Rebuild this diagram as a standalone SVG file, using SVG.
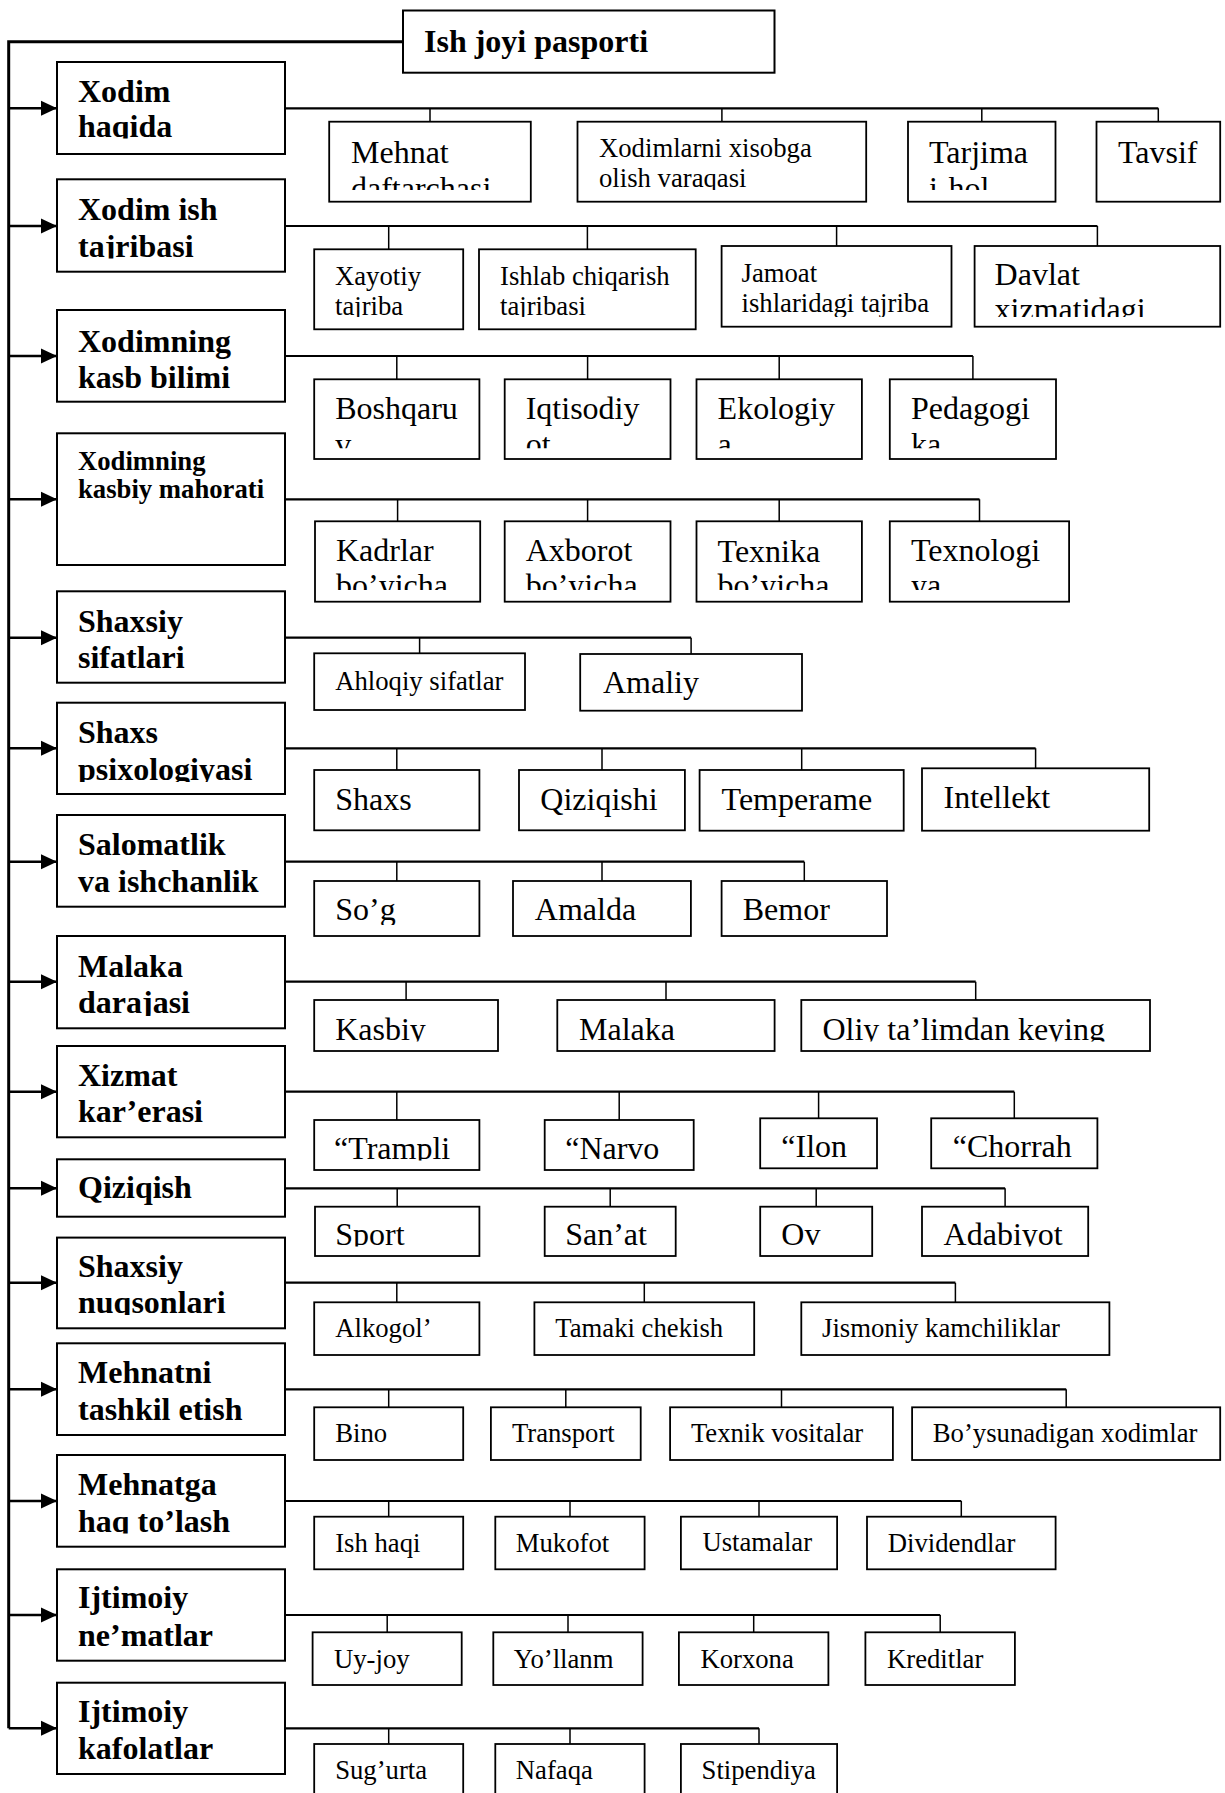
<svg xmlns="http://www.w3.org/2000/svg" width="1225" height="1793" viewBox="0 0 1225 1793">
<style>
.box{fill:#fff;stroke:#000;stroke-width:1.8}
.cat{stroke-width:2}
text{font-family:'Liberation Serif','Times New Roman',serif;fill:#000}
.b32{font-size:32px;font-weight:bold}
.b27{font-size:26.7px;font-weight:bold}
.r32{font-size:32px}
.r27{font-size:26.7px}
.main{fill:none;stroke:#000;stroke-width:3}
.arr{fill:none;stroke:#000;stroke-width:2.5;marker-end:url(#ah)}
.hz{fill:none;stroke:#000;stroke-width:2.2}
.dr{fill:none;stroke:#000;stroke-width:1.5}
</style>
<defs>
<marker id="ah" markerUnits="userSpaceOnUse" markerWidth="16" markerHeight="16" refX="16" refY="8" orient="auto"><path d="M0,0.5 L16,8 L0,15.5z" fill="#000"/></marker>
<clipPath id="k1"><rect x="57" y="60" width="228" height="78.5"/></clipPath>
<clipPath id="k2"><rect x="57" y="178" width="228" height="80.5"/></clipPath>
<clipPath id="k6"><rect x="57" y="700" width="228" height="82"/></clipPath>
<clipPath id="k8"><rect x="57" y="934" width="228" height="82"/></clipPath>
<clipPath id="k11"><rect x="57" y="1236" width="228" height="79"/></clipPath>
<clipPath id="k13"><rect x="57" y="1453" width="228" height="80.5"/></clipPath>
<clipPath id="c1"><rect x="300" y="110" width="925" height="80"/></clipPath>
<clipPath id="c2"><rect x="300" y="240" width="925" height="77"/></clipPath>
<clipPath id="c3"><rect x="300" y="370" width="925" height="78.3"/></clipPath>
<clipPath id="c4"><rect x="300" y="510" width="925" height="80"/></clipPath>
<clipPath id="c7"><rect x="300" y="875" width="925" height="50"/></clipPath>
<clipPath id="c8"><rect x="300" y="995" width="925" height="46.5"/></clipPath>
<clipPath id="c9"><rect x="300" y="1110" width="925" height="50.5"/></clipPath>
<clipPath id="c10"><rect x="300" y="1200" width="925" height="46.5"/></clipPath>
</defs>

<g id="connectors">
<path class="main" d="M403,41.7 H8.7 V1728.3"/>
<line class="arr" x1="8.7" y1="108.3" x2="57" y2="108.3"/>
<line class="arr" x1="8.7" y1="226" x2="57" y2="226"/>
<line class="arr" x1="8.7" y1="356" x2="57" y2="356"/>
<line class="arr" x1="8.7" y1="499.3" x2="57" y2="499.3"/>
<line class="arr" x1="8.7" y1="637.7" x2="57" y2="637.7"/>
<line class="arr" x1="8.7" y1="748.3" x2="57" y2="748.3"/>
<line class="arr" x1="8.7" y1="861.7" x2="57" y2="861.7"/>
<line class="arr" x1="8.7" y1="981.7" x2="57" y2="981.7"/>
<line class="arr" x1="8.7" y1="1091.7" x2="57" y2="1091.7"/>
<line class="arr" x1="8.7" y1="1188.3" x2="57" y2="1188.3"/>
<line class="arr" x1="8.7" y1="1282.7" x2="57" y2="1282.7"/>
<line class="arr" x1="8.7" y1="1389.3" x2="57" y2="1389.3"/>
<line class="arr" x1="8.7" y1="1501" x2="57" y2="1501"/>
<line class="arr" x1="8.7" y1="1615" x2="57" y2="1615"/>
<line class="arr" x1="8.7" y1="1728.3" x2="57" y2="1728.3"/>

<path class="hz" d="M285,108.3 H1158.3 M285,226 H1097.4 M285,356 H972.9 M285,499.3 H979.5 M285,637.7 H691.1 M285,748.3 H1035.6 M285,861.7 H804.3 M285,981.7 H975.7 M285,1091.7 H1014.3 M285,1188.3 H1005.1 M285,1282.7 H955.4 M285,1389.3 H1066.2 M285,1501 H961.3 M285,1615 H940.2 M285,1728.3 H759"/>
<path class="dr" d="M430,108.3 V121.7 M721.9,108.3 V121.7 M981.8,108.3 V121.7 M1158.3,108.3 V121.7
M388.7,226 V249.3 M587.4,226 V249.3 M836.6,226 V246 M1097.4,226 V246
M396.8,356 V379.3 M587.6,356 V379.3 M779.2,356 V379.3 M972.9,356 V379.3
M397.6,499.3 V521.3 M587.6,499.3 V521.3 M779.2,499.3 V521.3 M979.5,499.3 V521.3
M419.6,637.7 V653.3 M691.1,637.7 V654
M396.8,748.3 V770 M602,748.3 V770 M801.7,748.3 V770 M1035.6,748.3 V768.3
M396.8,861.7 V881 M602,861.7 V881 M804.3,861.7 V881
M406.1,981.7 V1000 M666,981.7 V1000 M975.7,981.7 V1000
M396.8,1091.7 V1120 M619.2,1091.7 V1120 M818.6,1091.7 V1118.3 M1014.3,1091.7 V1118.3
M397.2,1188.3 V1206.7 M610.2,1188.3 V1206.7 M816.2,1188.3 V1206.7 M1005.1,1188.3 V1206.7
M396.8,1282.7 V1302.3 M644.3,1282.7 V1302.3 M955.4,1282.7 V1302.3
M388.7,1389.3 V1407.3 M565.8,1389.3 V1407.3 M781.5,1389.3 V1407.3 M1066.2,1389.3 V1407.3
M388.7,1501 V1516.7 M570,1501 V1516.7 M759,1501 V1516.7 M961.3,1501 V1516.7
M387.2,1615 V1632.3 M568,1615 V1632.3 M753.7,1615 V1632.3 M940.2,1615 V1632.3
M388.7,1728.3 V1744 M570,1728.3 V1744 M759,1728.3 V1744"/>
</g>

<g id="title"><rect class="box cat" x="403" y="10.5" width="371.5" height="62.2"/><text class="b32" x="424" y="52">Ish joyi pasporti</text></g>

<g id="cat1"><rect class="box cat" x="57" y="62" width="228" height="92"/><g clip-path="url(#k1)"><text class="b32" x="78" y="101.7">Xodim</text><text class="b32" x="78" y="136.7">haqida</text></g></g>
<g id="cat2"><rect class="box cat" x="57" y="179.3" width="228" height="92.4"/><g clip-path="url(#k2)"><text class="b32" x="78" y="220">Xodim ish</text><text class="b32" x="78" y="256.7">tajribasi</text></g></g>
<g id="cat3"><rect class="box cat" x="57" y="310" width="228" height="91.7"/><text class="b32" x="78" y="351.7">Xodimning</text><text class="b32" x="78" y="387.7">kasb bilimi</text></g>
<g id="cat4"><rect class="box cat" x="57" y="433.3" width="228" height="131.7"/><text class="b27" x="78" y="470">Xodimning</text><text class="b27" x="78" y="498">kasbiy mahorati</text></g>
<g id="cat5"><rect class="box cat" x="57" y="591.3" width="228" height="91.4"/><text class="b32" x="78" y="631.7">Shaxsiy</text><text class="b32" x="78" y="668.3">sifatlari</text></g>
<g id="cat6"><rect class="box cat" x="57" y="702.7" width="228" height="91.3"/><g clip-path="url(#k6)"><text class="b32" x="78" y="742.7">Shaxs</text><text class="b32" x="78" y="780">psixologiyasi</text></g></g>
<g id="cat7"><rect class="box cat" x="57" y="815" width="228" height="91.7"/><text class="b32" x="78" y="855">Salomatlik</text><text class="b32" x="78" y="891.7">va ishchanlik</text></g>
<g id="cat8"><rect class="box cat" x="57" y="936" width="228" height="92.3"/><g clip-path="url(#k8)"><text class="b32" x="78" y="976.7">Malaka</text><text class="b32" x="78" y="1013.3">darajasi</text></g></g>
<g id="cat9"><rect class="box cat" x="57" y="1046" width="228" height="91.3"/><text class="b32" x="78" y="1085.7">Xizmat</text><text class="b32" x="78" y="1122.3">kar’erasi</text></g>
<g id="cat10"><rect class="box cat" x="57" y="1159.3" width="228" height="57.4"/><text class="b32" x="78" y="1198.3">Qiziqish</text></g>
<g id="cat11"><rect class="box cat" x="57" y="1237.6" width="228" height="90.7"/><g clip-path="url(#k11)"><text class="b32" x="78" y="1276.7">Shaxsiy</text><text class="b32" x="78" y="1313.3">nuqsonlari</text></g></g>
<g id="cat12"><rect class="box cat" x="57" y="1343.3" width="228" height="91.7"/><text class="b32" x="78" y="1383.3">Mehnatni</text><text class="b32" x="78" y="1420">tashkil etish</text></g>
<g id="cat13"><rect class="box cat" x="57" y="1455" width="228" height="91.7"/><g clip-path="url(#k13)"><text class="b32" x="78" y="1495">Mehnatga</text><text class="b32" x="78" y="1531.7">haq to’lash</text></g></g>
<g id="cat14"><rect class="box cat" x="57" y="1569.3" width="228" height="91.4"/><text class="b32" x="78" y="1608.3">Ijtimoiy</text><text class="b32" x="78" y="1646">ne’matlar</text></g>
<g id="cat15"><rect class="box cat" x="57" y="1682.7" width="228" height="91.3"/><text class="b32" x="78" y="1721.7">Ijtimoiy</text><text class="b32" x="78" y="1759.3">kafolatlar</text></g>

<g id="n1a"><rect class="box" x="329.2" y="121.7" width="201.6" height="80"/><g clip-path="url(#c1)"><text class="r32" x="351" y="163.3">Mehnat</text><text class="r32" x="351" y="198.6">daftarchasi</text></g></g>
<g id="n1b"><rect class="box" x="577.5" y="121.7" width="288.7" height="80"/><g clip-path="url(#c1)"><text class="r27" x="599" y="156.7">Xodimlarni xisobga</text><text class="r27" x="599" y="186.7">olish varaqasi</text></g></g>
<g id="n1c"><rect class="box" x="908" y="121.7" width="147.5" height="80"/><g clip-path="url(#c1)"><text class="r32" x="929" y="163.3">Tarjima</text><text class="r32" x="929" y="198.6">i-hol</text></g></g>
<g id="n1d"><rect class="box" x="1096.5" y="121.7" width="123.7" height="80"/><text class="r32" x="1118" y="163.3">Tavsif</text></g>

<g id="n2a"><rect class="box" x="314.2" y="249.3" width="149" height="80"/><g clip-path="url(#c2)"><text class="r27" x="335" y="285">Xayotiy</text><text class="r27" x="335" y="315">tajriba</text></g></g>
<g id="n2b"><rect class="box" x="479" y="249.3" width="216.7" height="80"/><g clip-path="url(#c2)"><text class="r27" x="500" y="285">Ishlab chiqarish</text><text class="r27" x="500" y="315">tajribasi</text></g></g>
<g id="n2c"><rect class="box" x="721.6" y="246" width="229.9" height="80.7"/><g clip-path="url(#c2)"><text class="r27" x="741.5" y="281.7">Jamoat</text><text class="r27" x="741.5" y="311.7">ishlaridagi tajriba</text></g></g>
<g id="n2d"><rect class="box" x="974.6" y="246" width="245.6" height="80.7"/><g clip-path="url(#c2)"><text class="r32" x="994.6" y="285">Davlat</text><text class="r32" x="994.6" y="320.3">xizmatidagi</text></g></g>

<g id="n3a"><rect class="box" x="314.2" y="379.3" width="165.2" height="79.7"/><g clip-path="url(#c3)"><text class="r32" x="335.2" y="419.3">Boshqaru</text><text class="r32" x="335.2" y="454.6">v</text></g></g>
<g id="n3b"><rect class="box" x="504.7" y="379.3" width="165.8" height="79.7"/><g clip-path="url(#c3)"><text class="r32" x="525.7" y="419.3">Iqtisodiy</text><text class="r32" x="525.7" y="454.6">ot</text></g></g>
<g id="n3c"><rect class="box" x="696.5" y="379.3" width="165.4" height="79.7"/><g clip-path="url(#c3)"><text class="r32" x="717.6" y="419.3">Ekologiy</text><text class="r32" x="717.6" y="454.6">a</text></g></g>
<g id="n3d"><rect class="box" x="889.8" y="379.3" width="166.2" height="79.7"/><g clip-path="url(#c3)"><text class="r32" x="910.9" y="419.3">Pedagogi</text><text class="r32" x="910.9" y="454.6">ka</text></g></g>

<g id="n4a"><rect class="box" x="315" y="521.3" width="165.2" height="80.4"/><g clip-path="url(#c4)"><text class="r32" x="336" y="560.7">Kadrlar</text><text class="r32" x="336" y="596">bo’yicha</text></g></g>
<g id="n4b"><rect class="box" x="504.7" y="521.3" width="165.8" height="80.4"/><g clip-path="url(#c4)"><text class="r32" x="525.7" y="560.7">Axborot</text><text class="r32" x="525.7" y="596">bo’yicha</text></g></g>
<g id="n4c"><rect class="box" x="696.5" y="521.3" width="165.4" height="80.4"/><g clip-path="url(#c4)"><text class="r32" x="717.6" y="561.7">Texnika</text><text class="r32" x="717.6" y="596">bo’yicha</text></g></g>
<g id="n4d"><rect class="box" x="889.8" y="521.3" width="179.3" height="80.4"/><g clip-path="url(#c4)"><text class="r32" x="910.9" y="560.7">Texnologi</text><text class="r32" x="910.9" y="596">ya</text></g></g>

<g id="n5a"><rect class="box" x="314.2" y="653.3" width="210.8" height="56.7"/><text class="r27" x="335.2" y="690">Ahloqiy sifatlar</text></g>
<g id="n5b"><rect class="box" x="580.2" y="654" width="221.8" height="56.7"/><text class="r32" x="603" y="693.3">Amaliy</text></g>

<g id="n6a"><rect class="box" x="314.2" y="770" width="165.2" height="60.3"/><text class="r32" x="335.2" y="810">Shaxs</text></g>
<g id="n6b"><rect class="box" x="519" y="770" width="165.9" height="60.3"/><text class="r32" x="540.3" y="810">Qiziqishi</text></g>
<g id="n6c"><rect class="box" x="699.6" y="770" width="204.1" height="60.7"/><text class="r32" x="721.6" y="810">Temperame</text></g>
<g id="n6d"><rect class="box" x="922" y="768.3" width="227.2" height="62.4"/><text class="r32" x="943.6" y="808.3">Intellekt</text></g>

<g id="n7a"><rect class="box" x="314.2" y="881" width="165.2" height="55"/><g clip-path="url(#c7)"><text class="r32" x="335.2" y="920">So’g</text></g></g>
<g id="n7b"><rect class="box" x="513" y="881" width="177.9" height="55"/><text class="r32" x="534.8" y="920">Amalda</text></g>
<g id="n7c"><rect class="box" x="721.6" y="881" width="165.4" height="55"/><text class="r32" x="742.7" y="920">Bemor</text></g>

<g id="n8a"><rect class="box" x="314.2" y="1000" width="183.8" height="51"/><g clip-path="url(#c8)"><text class="r32" x="335.2" y="1040">Kasbiy</text></g></g>
<g id="n8b"><rect class="box" x="557.3" y="1000" width="217.3" height="51"/><text class="r32" x="579" y="1040">Malaka</text></g>
<g id="n8c"><rect class="box" x="801.3" y="1000" width="348.7" height="51"/><g clip-path="url(#c8)"><text class="r32" x="822.4" y="1040">Oliy ta’limdan keying</text></g></g>

<g id="n9a"><rect class="box" x="314.2" y="1120" width="165.2" height="50"/><g clip-path="url(#c9)"><text class="r32" x="334" y="1159.3">“Trampli</text></g></g>
<g id="n9b"><rect class="box" x="544.7" y="1120" width="149" height="50"/><text class="r32" x="565.2" y="1159.3">“Narvo</text></g>
<g id="n9c"><rect class="box" x="760.2" y="1118.3" width="116.8" height="50"/><text class="r32" x="781.3" y="1156.7">“Ilon</text></g>
<g id="n9d"><rect class="box" x="931.2" y="1118.3" width="166.2" height="50"/><text class="r32" x="952.7" y="1156.7">“Chorrah</text></g>

<g id="n10a"><rect class="box" x="315" y="1206.7" width="164.4" height="49.3"/><g clip-path="url(#c10)"><text class="r32" x="335.2" y="1245">Sport</text></g></g>
<g id="n10b"><rect class="box" x="544.7" y="1206.7" width="131" height="49.3"/><text class="r32" x="565.2" y="1245">San’at</text></g>
<g id="n10c"><rect class="box" x="760.2" y="1206.7" width="112" height="49.3"/><text class="r32" x="781.3" y="1245">Ov</text></g>
<g id="n10d"><rect class="box" x="922" y="1206.7" width="166.2" height="49.3"/><g clip-path="url(#c10)"><text class="r32" x="943.6" y="1245">Adabiyot</text></g></g>

<g id="n11a"><rect class="box" x="314.2" y="1302.3" width="165.2" height="52.7"/><text class="r27" x="335.2" y="1336.7">Alkogol’</text></g>
<g id="n11b"><rect class="box" x="534.4" y="1302.3" width="219.8" height="52.7"/><text class="r27" x="555.3" y="1336.7">Tamaki chekish</text></g>
<g id="n11c"><rect class="box" x="801.3" y="1302.3" width="308.1" height="52.7"/><text class="r27" x="822" y="1336.7">Jismoniy kamchiliklar</text></g>

<g id="n12a"><rect class="box" x="314.2" y="1407.3" width="149" height="52.7"/><text class="r27" x="335.2" y="1441.7">Bino</text></g>
<g id="n12b"><rect class="box" x="490.9" y="1407.3" width="149.8" height="52.7"/><text class="r27" x="511.9" y="1441.7">Transport</text></g>
<g id="n12c"><rect class="box" x="670.1" y="1407.3" width="222.8" height="52.7"/><text class="r27" x="690.9" y="1441.7">Texnik vositalar</text></g>
<g id="n12d"><rect class="box" x="912.1" y="1407.3" width="308.1" height="52.7"/><text class="r27" x="932.8" y="1441.7">Bo’ysunadigan xodimlar</text></g>

<g id="n13a"><rect class="box" x="314.2" y="1516.7" width="149" height="52.6"/><text class="r27" x="335.2" y="1551.7">Ish haqi</text></g>
<g id="n13b"><rect class="box" x="495.3" y="1516.7" width="149.3" height="52.6"/><text class="r27" x="515.8" y="1551.7">Mukofot</text></g>
<g id="n13c"><rect class="box" x="680.9" y="1516.7" width="156.2" height="52.6"/><text class="r27" x="702.4" y="1550.5">Ustamalar</text></g>
<g id="n13d"><rect class="box" x="867" y="1516.7" width="188.6" height="52.6"/><text class="r27" x="887.8" y="1551.7">Dividendlar</text></g>

<g id="n14a"><rect class="box" x="312.6" y="1632.3" width="149.1" height="52.7"/><text class="r27" x="334" y="1668.3">Uy-joy</text></g>
<g id="n14b"><rect class="box" x="493.3" y="1632.3" width="149.3" height="52.7"/><text class="r27" x="513.8" y="1668.3">Yo’llanm</text></g>
<g id="n14c"><rect class="box" x="678.9" y="1632.3" width="149.5" height="52.7"/><text class="r27" x="700.4" y="1668.3">Korxona</text></g>
<g id="n14d"><rect class="box" x="865.4" y="1632.3" width="149.5" height="52.7"/><text class="r27" x="887" y="1668.3">Kreditlar</text></g>

<g id="n15a"><rect class="box" x="314.2" y="1744" width="149" height="60"/><text class="r27" x="335.2" y="1779.3">Sug’urta</text></g>
<g id="n15b"><rect class="box" x="495.3" y="1744" width="149.3" height="60"/><text class="r27" x="515.8" y="1779.3">Nafaqa</text></g>
<g id="n15c"><rect class="box" x="680.9" y="1744" width="156.2" height="60"/><text class="r27" x="701.6" y="1779.3">Stipendiya</text></g>
</svg>
